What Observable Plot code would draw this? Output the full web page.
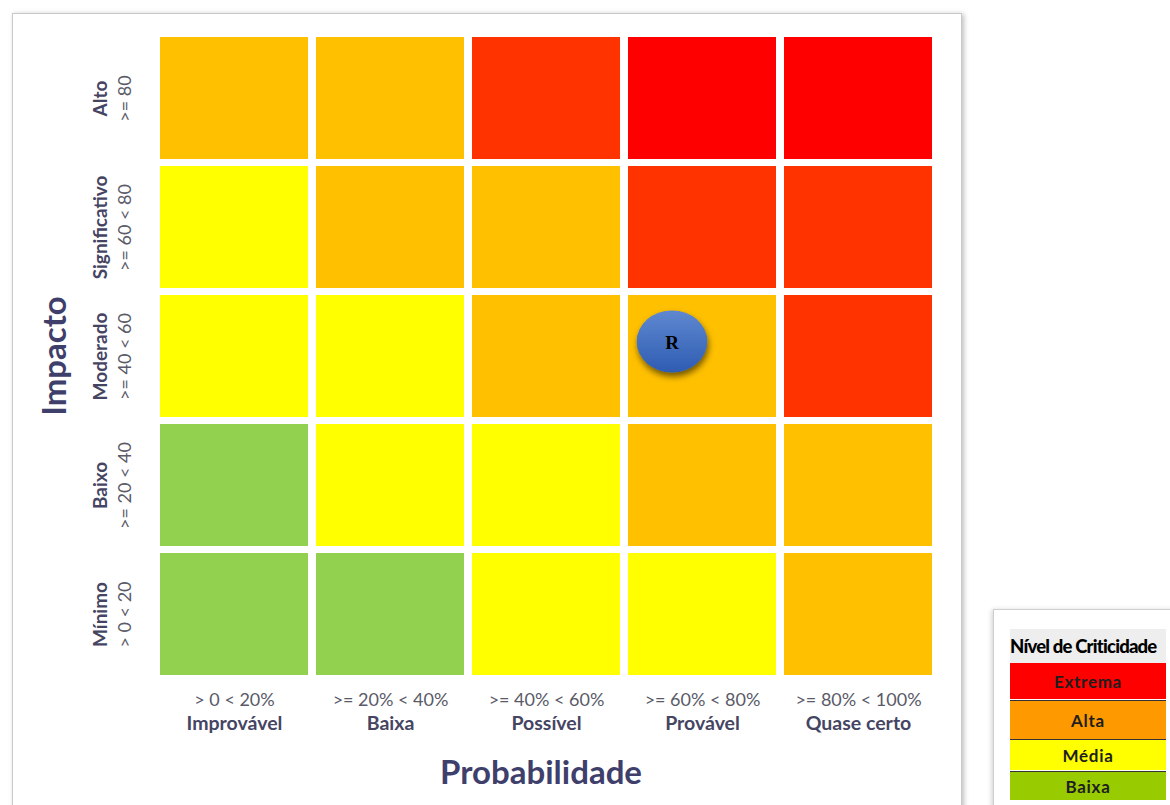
<!DOCTYPE html>
<html>
<head>
<meta charset="utf-8">
<script src="https://cdn.jsdelivr.net/npm/d3@7"></script>
<script src="https://cdn.jsdelivr.net/npm/@observablehq/plot@0.6"></script>
<style>
  html, body { margin: 0; padding: 0; background: #fff; }
  #wrap { position: relative; width: 1170px; height: 805px; overflow: hidden; font-family: Lato, "Open Sans", sans-serif; }
  #frame { position: absolute; left: 12px; top: 13px; width: 948px; height: 820px;
           border: 1.5px solid #c9c9c9; box-shadow: 2px 1px 5px rgba(0,0,0,0.25); background: #fff; }
  #chart { position: absolute; left: 0; top: 0; }
  #legend { position: absolute; left: 993px; top: 609px; width: 220px; height: 240px;
            border: 1.5px solid #cfcfcf; box-shadow: -1px 1px 5px rgba(0,0,0,0.2); background: #fff; }
  #legend .row { position: absolute; left: 16px; width: 156px; display: flex; align-items: center; justify-content: center;
                 font-weight: 700; font-size: 17px; color: #1e1e1e; letter-spacing: 0.7px; }
  #legend .title { background: #eeeeee; letter-spacing: -0.8px; font-size: 18.5px; font-weight: 900; color: #000; justify-content: flex-start; white-space: nowrap; }
</style>
</head>
<body>
<div id="wrap">
  <div id="frame"></div>
  <div id="chart"></div>
  <div id="legend"></div>
</div>
<script>
// ---- data ----
const probNames = ["Improvável", "Baixa", "Possível", "Provável", "Quase certo"];
const probRanges = ["> 0 < 20%", ">= 20% < 40%", ">= 40% < 60%", ">= 60% < 80%", ">= 80% < 100%"];
const impactNames = ["Alto", "Significativo", "Moderado", "Baixo", "Mínimo"];
const impactRanges = [">= 80", ">= 60 < 80", ">= 40 < 60", ">= 20 < 40", "> 0 < 20"];
// cell colours per impact row (top to bottom), per probability column (left to right)
const rowAlto          = ["#FFC000", "#FFC000", "#FF3300", "#FF0000", "#FF0000"];
const rowSignificativo = ["#FFFF00", "#FFC000", "#FFC000", "#FF3300", "#FF3300"];
const rowModerado      = ["#FFFF00", "#FFFF00", "#FFC000", "#FFC000", "#FF3300"];
const rowBaixo         = ["#92D050", "#FFFF00", "#FFFF00", "#FFC000", "#FFC000"];
const rowMinimo        = ["#92D050", "#92D050", "#FFFF00", "#FFFF00", "#FFC000"];
const riskPoints = [{label: "R", prob: "Provável", impact: "Moderado"}];
const legendLabels = ["Extrema", "Alta", "Média", "Baixa"];
const legendColors = ["#FF0000", "#FF9900", "#FFFF00", "#99CC00"];
const legendTitle = "Nível de Criticidade";

// ---- build cell table ----
const rows = [rowAlto, rowSignificativo, rowModerado, rowBaixo, rowMinimo];
const cells = [];
rows.forEach((r, i) => r.forEach((c, j) => cells.push({impact: impactNames[i], prob: probNames[j], color: c})));

const navy = "#3f3f6c";
const chart = Plot.plot({
  width: 1170,
  height: 805,
  marginLeft: 160,
  marginRight: 237,
  marginTop: 36,
  marginBottom: 130,
  style: {background: "transparent", fontFamily: "Lato, 'Open Sans', sans-serif"},
  x: {type: "band", domain: probNames, paddingInner: 0.051, paddingOuter: 0, axis: null},
  y: {type: "band", domain: impactNames, paddingInner: 0.056, paddingOuter: 0, axis: null},
  marks: [
    Plot.cell(cells, {x: "prob", y: "impact", fill: "color", inset: 0}),
    // x labels
    Plot.text(probNames, {x: d => d, text: (d, i) => probRanges[i], frameAnchor: "bottom", dy: 30,
      fontSize: 18, fill: "#5a5a68"}),
    Plot.text(probNames, {x: d => d, text: d => d, frameAnchor: "bottom", dy: 54,
      fontSize: 19.5, fontWeight: "bold", fill: "#454563"}),
    // y labels
    Plot.text(impactNames, {y: d => d, text: d => d, frameAnchor: "left", dx: -60, rotate: -90,
      textAnchor: "middle", fontSize: 19, fontWeight: "bold", fill: "#454563"}),
    Plot.text(impactNames, {y: d => d, text: (d, i) => impactRanges[i], frameAnchor: "left", dx: -35, rotate: -90,
      textAnchor: "middle", fontSize: 18, fill: "#5a5a68"}),
    // axis titles
    Plot.text(["Impacto"], {text: d => d, frameAnchor: "left", dx: -105, rotate: -90, textAnchor: "middle",
      fontSize: 33, fontWeight: "bold", fill: navy}),
    Plot.text(["Probabilidade"], {text: d => d, frameAnchor: "bottom", dy: 108, dx: -6,
      fontSize: 33, fontWeight: "bold", fill: navy}),
    // risk marker
    Plot.dot(riskPoints, {x: "prob", y: "impact", r: 31, dx: -30.5, dy: -15, fill: "url(#rgrad)", stroke: "none"}),
    Plot.text(riskPoints, {x: "prob", y: "impact", text: "label", dx: -30.5, dy: -14, fontSize: 19,
      fontWeight: "bold", fontFamily: "'Liberation Serif', 'DejaVu Serif', serif", fill: "#000"})
  ]
});
document.getElementById("chart").appendChild(chart);

// gradient + shadow defs for the marker
const svg = d3.select(chart);
const defs = svg.insert("defs", ":first-child");
const g = defs.append("linearGradient").attr("id", "rgrad").attr("x1", 0).attr("y1", 0).attr("x2", 0).attr("y2", 1);
g.append("stop").attr("offset", "0%").attr("stop-color", "#5f88d0");
g.append("stop").attr("offset", "100%").attr("stop-color", "#2e5cb2");
const f = defs.append("filter").attr("id", "rshadow").attr("x", "-30%").attr("y", "-30%").attr("width", "160%").attr("height", "170%");
f.append("feDropShadow").attr("dx", 1).attr("dy", 4).attr("stdDeviation", 3).attr("flood-color", "#000").attr("flood-opacity", 0.55);
svg.selectAll("g[aria-label='dot'] circle").each(function() {
  const c = d3.select(this);
  const cx = +c.attr("cx") || 0, cy = +c.attr("cy") || 0;
  c.attr("transform", `translate(${cx},${cy}) scale(1.14,1) translate(${-cx},${-cy})`)
   .attr("filter", "url(#rshadow)");
});

// legend (HTML table-like box)
const leg = document.getElementById("legend");
const tops = [19, 53, 90, 129, 161];
const heights = [34, 36, 38, 30, 28];
const t = document.createElement("div");
t.className = "row title"; t.textContent = legendTitle;
t.style.top = tops[0] + "px"; t.style.height = heights[0] + "px"; t.style.paddingLeft = "0px";
leg.appendChild(t);
legendLabels.forEach((lab, i) => {
  const d = document.createElement("div");
  d.className = "row"; d.textContent = lab;
  d.style.top = tops[i + 1] + "px"; d.style.height = heights[i + 1] + "px";
  d.style.background = legendColors[i];
  if (i > 0) d.style.borderTop = "1.5px solid #333";
  leg.appendChild(d);
});
</script>
</body>
</html>
